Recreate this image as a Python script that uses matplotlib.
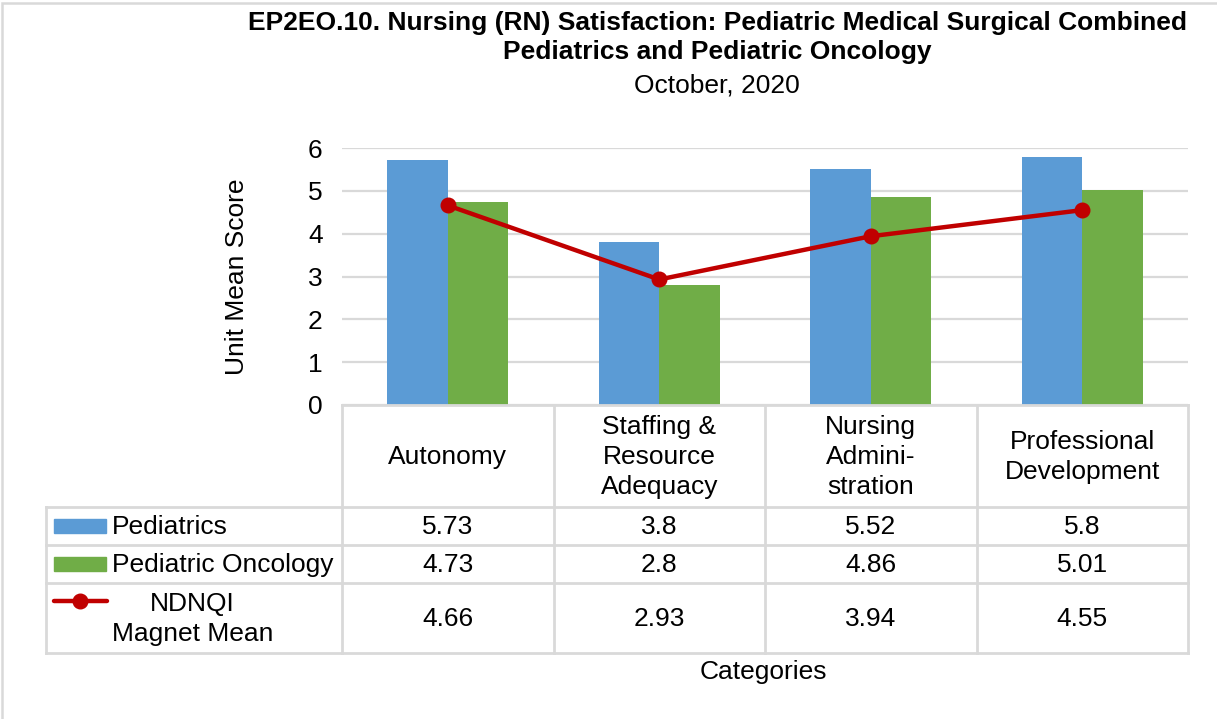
import matplotlib
matplotlib.use("Agg")
import matplotlib.pyplot as plt
from matplotlib.lines import Line2D
from matplotlib.patches import Rectangle
import numpy as np

plt.rcParams['font.family'] = ['Liberation Sans', 'DejaVu Sans']

categories = ["Autonomy", "Staffing &\nResource\nAdequacy", "Nursing\nAdmini-\nstration", "Professional\nDevelopment"]
series_names = ["Pediatrics", "Pediatric Oncology", "NDNQI\nMagnet Mean"]
pediatrics = [5.73, 3.8, 5.52, 5.8]
oncology = [4.73, 2.8, 4.86, 5.01]
ndnqi = [4.66, 2.93, 3.94, 4.55]
value_labels = [["5.73", "3.8", "5.52", "5.8"],
                ["4.73", "2.8", "4.86", "5.01"],
                ["4.66", "2.93", "3.94", "4.55"]]
yticks = [0, 1, 2, 3, 4, 5, 6]

title = "EP2EO.10. Nursing (RN) Satisfaction: Pediatric Medical Surgical Combined\nPediatrics and Pediatric Oncology"
subtitle = "October, 2020"

W, H = 1217, 719
fig = plt.figure(figsize=(W / 100, H / 100), dpi=100)

def fx(px):
    return px / W

def fy(py):
    return 1 - py / H

BLUE = "#5b9bd5"
GREEN = "#70ad47"
RED = "#c00000"
GRID = "#d9d9d9"
FS = 19

# plot area
pl, pr, pt, pb = 342, 1188, 148, 405
ax = fig.add_axes([fx(pl), fy(pb), fx(pr) - fx(pl), fy(pt) - fy(pb)])
x = np.arange(len(categories))
bw = 1 / 3.5
ax.bar(x - bw / 2, pediatrics, bw, color=BLUE, zorder=2)
ax.bar(x + bw / 2, oncology, bw, color=GREEN, zorder=2)
ax.plot(x, ndnqi, color=RED, lw=3.2, marker='o', ms=10.5, zorder=3,
        solid_capstyle='round')
ax.set_xlim(-0.5, len(categories) - 0.5)
ax.set_ylim(0, 6)
ax.set_yticks(yticks)
ax.set_yticklabels([str(t) for t in yticks], fontsize=FS)
ax.tick_params(axis='y', length=0, pad=14)
ax.set_xticks([])
ax.yaxis.grid(True, color=GRID, lw=1.6, zorder=0)
ax.set_axisbelow(True)
for s in ax.spines.values():
    s.set_visible(False)
ax.set_ylabel("Unit Mean Score", fontsize=FS, labelpad=42)

# chart border
fig.add_artist(Rectangle((fx(2), fy(H + 5)), fx(W + 5), fy(3) - fy(H + 5),
                         transform=fig.transFigure, fill=False,
                         edgecolor=GRID, lw=1.8))

# title
fig.text(fx(717), fy(11), title, ha='center', va='top', fontsize=FS,
         fontweight='bold', linespacing=1.28)
fig.text(fx(717), fy(74), subtitle, ha='center', va='top', fontsize=FS)

# data table
tl = 46
rows_y = [405, 507, 545, 583, 653]
ncat = len(categories)
colw = (pr - pl) / ncat
col_x = [pl + i * colw for i in range(ncat + 1)]

def hline(xa, xb, y):
    fig.add_artist(Line2D([fx(xa), fx(xb)], [fy(y), fy(y)], color=GRID, lw=2,
                          transform=fig.transFigure))

def vline(xp, ya, yb):
    fig.add_artist(Line2D([fx(xp), fx(xp)], [fy(ya), fy(yb)], color=GRID, lw=2,
                          transform=fig.transFigure))

hline(pl, pr, rows_y[0])
for y in rows_y[1:]:
    hline(tl, pr, y)
for xp in col_x:
    vline(xp, rows_y[0], rows_y[-1])
vline(tl, rows_y[1], rows_y[-1])

for i, c in enumerate(categories):
    cx = (col_x[i] + col_x[i + 1]) / 2
    fig.text(fx(cx), fy((rows_y[0] + rows_y[1]) / 2 + 1), c, ha='center',
             va='center', fontsize=FS, linespacing=1.33)
    for r in range(3):
        cy = (rows_y[r + 1] + rows_y[r + 2]) / 2
        fig.text(fx(cx), fy(cy + 1), value_labels[r][i], ha='center',
                 va='center', fontsize=FS)

# legend keys in table
key_colors = [BLUE, GREEN]
for r in range(2):
    cy = (rows_y[r + 1] + rows_y[r + 2]) / 2
    fig.add_artist(Rectangle((fx(54), fy(cy + 7)), fx(52), fy(cy - 7) - fy(cy + 7),
                             transform=fig.transFigure, color=key_colors[r]))
ky = 601
fig.add_artist(Line2D([fx(54), fx(107)], [fy(ky), fy(ky)], color=RED, lw=3.2,
                      transform=fig.transFigure, solid_capstyle='round'))
fig.add_artist(Line2D([fx(80)], [fy(ky)], color=RED, marker='o', ms=10.5,
                      transform=fig.transFigure))
for r in range(3):
    cy = (rows_y[r + 1] + rows_y[r + 2]) / 2
    fig.text(fx(112), fy(cy + 1), series_names[r], ha='left', va='center',
             fontsize=FS, multialignment='center', linespacing=1.3)

fig.text(fx(763), fy(672), "Categories", ha='center', va='center', fontsize=FS)

fig.savefig("out.png", dpi=100)
